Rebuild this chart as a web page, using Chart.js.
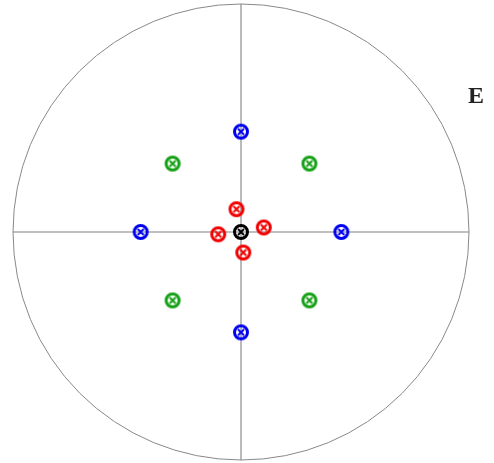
<!DOCTYPE html>
<html>
<head>
<meta charset="utf-8">
<script src="https://cdn.jsdelivr.net/npm/chart.js@4/dist/chart.umd.min.js"></script>
<style>
  html, body { margin: 0; padding: 0; background: #fff; }
  #wrap { width: 494px; height: 463px; }
</style>
</head>
<body>
<div id="wrap"><canvas id="netChart"></canvas></div>
<script>
// positions in units of the net radius (x right, y up)
const blueX = [0, 0, -0.44, 0.44];
const blueY = [0.44, -0.44, 0, 0];
const greenX = [-0.30, 0.30, -0.30, 0.30];
const greenY = [0.30, 0.30, -0.30, -0.30];
const redX = [-0.02, -0.10, 0.10, 0.01];
const redY = [0.10, -0.01, 0.02, -0.09];
const blackX = [0];
const blackY = [0];
const cornerLabel = 'E';

function toPoints(xs, ys) {
    return xs.map((x, i) => ({ x: x, y: ys[i] }));
}

// circle with an x inside
function makeMarker(color) {
    const c = document.createElement('canvas');
    c.width = 20;
    c.height = 20;
    const g = c.getContext('2d');
    g.strokeStyle = color;
    g.lineWidth = 3;
    g.beginPath();
    g.arc(10, 10, 6.5, 0, Math.PI * 2);
    g.stroke();
    g.lineWidth = 2;
    g.beginPath();
    g.moveTo(7, 7); g.lineTo(13, 13);
    g.moveTo(13, 7); g.lineTo(7, 13);
    g.stroke();
    return c;
}

const netPlugin = {
    id: 'net',
    beforeDatasetsDraw(chart) {
        const { ctx, scales } = chart;
        const cx = scales.x.getPixelForValue(0);
        const cy = scales.y.getPixelForValue(0);
        const r = scales.x.getPixelForValue(1) - cx;
        ctx.save();
        ctx.strokeStyle = '#aaaaaa';
        ctx.lineWidth = 1.6;
        ctx.beginPath();
        ctx.moveTo(scales.x.getPixelForValue(-1), cy);
        ctx.lineTo(scales.x.getPixelForValue(1), cy);
        ctx.moveTo(cx, scales.y.getPixelForValue(1));
        ctx.lineTo(cx, scales.y.getPixelForValue(-1));
        ctx.stroke();
        ctx.strokeStyle = '#888888';
        ctx.lineWidth = 1;
        ctx.beginPath();
        ctx.arc(cx, cy, r, 0, Math.PI * 2);
        ctx.stroke();
        ctx.restore();
    },
    afterDraw(chart) {
        const { ctx, chartArea } = chart;
        ctx.save();
        ctx.fillStyle = '#222222';
        ctx.font = 'bold 24px "Liberation Serif", "DejaVu Serif", serif';
        ctx.textAlign = 'left';
        ctx.textBaseline = 'alphabetic';
        ctx.fillText(cornerLabel, chartArea.right - 1, 103);
        ctx.restore();
    }
};

function series(label, xs, ys, color) {
    return {
        label: label,
        data: toPoints(xs, ys),
        pointStyle: makeMarker(color),
        pointRadius: 8,
        pointHoverRadius: 8,
        clip: false
    };
}

new Chart(document.getElementById('netChart').getContext('2d'), {
    type: 'scatter',
    data: {
        datasets: [
            series('blue', blueX, blueY, '#0000f0'),
            series('green', greenX, greenY, '#14a014'),
            series('red', redX, redY, '#f00000'),
            series('black', blackX, blackY, '#000000')
        ]
    },
    options: {
        responsive: true,
        maintainAspectRatio: false,
        animation: false,
        layout: {
            autoPadding: false,
            padding: { left: 13, right: 25, top: 4, bottom: 3 }
        },
        scales: {
            x: { min: -1, max: 1, display: false },
            y: { min: -1, max: 1, display: false }
        },
        plugins: {
            legend: { display: false },
            tooltip: { enabled: false }
        }
    },
    plugins: [netPlugin]
});
</script>
</body>
</html>
